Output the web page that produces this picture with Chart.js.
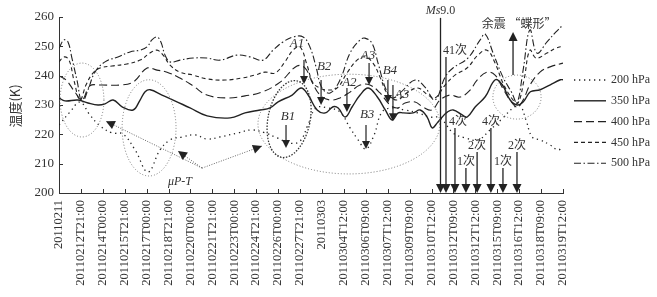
<!DOCTYPE html>
<html>
<head>
<meta charset="utf-8">
<script src="https://cdn.jsdelivr.net/npm/chart.js@4.4.1/dist/chart.umd.min.js"></script>
<style>
  html, body { margin: 0; padding: 0; background: #fff; }
</style>
</head>
<body>
<canvas id="tempChart" width="657" height="297"></canvas>
<script>
// Tick labels (category positions 0..23 on the x axis)
const labels = [
  "20110211", "20110212T21:00", "20110214T00:00", "20110215T21:00", "20110217T00:00",
  "20110218T21:00", "20110220T00:00", "20110221T21:00", "20110223T00:00", "20110224T21:00",
  "20110226T00:00", "20110227T21:00", "20110303", "20110304T12:00", "20110306T09:00",
  "20110307T12:00", "20110309T09:00", "20110310T12:00", "20110312T09:00", "20110312T12:00",
  "20110315T09:00", "20110316T12:00", "20110318T09:00", "20110319T12:00"
];

// 200 hPa
const x200 = [0, 0.50, 0.96, 1.41, 1.87, 2.42, 2.92, 3.47, 4.06, 4.61, 5.07, 5.61, 6.21, 6.75, 7.35, 8.17, 8.81, 9.40, 9.95, 10.54, 11.0, 11.36, 11.73, 12.27, 12.82, 13.28, 13.65, 14.01, 14.38, 14.74, 15.20, 15.79, 16.38, 16.93, 17.39, 17.98, 18.53, 19.12, 19.67, 20.26, 20.72, 21.04, 21.31, 21.59, 21.95, 22.41, 22.77, 23];
const t200 = [223.2, 227.6, 231.0, 226.6, 222.9, 220.5, 220.1, 214.7, 207.2, 214.7, 218.1, 219.1, 219.8, 218.4, 219.1, 220.5, 221.5, 220.5, 218.8, 217.0, 217.7, 223.2, 229.0, 229.0, 227.6, 222.2, 218.1, 215.0, 219.8, 227.6, 229.0, 228.3, 227.3, 225.9, 225.6, 220.5, 218.8, 218.1, 221.5, 225.6, 229.0, 229.7, 224.9, 219.1, 218.1, 216.4, 214.7, 215.7];

// 350 hPa
const x350 = [0, 0.27, 0.87, 1.32, 1.78, 2.10, 2.47, 2.88, 3.38, 3.70, 3.93, 4.16, 4.70, 5.21, 5.98, 6.76, 7.81, 8.49, 9.18, 9.63, 10.0, 10.64, 11.05, 11.37, 11.78, 12.15, 12.51, 12.74, 13.06, 13.38, 13.74, 14.11, 14.52, 14.89, 15.21, 15.48, 15.71, 16.16, 16.48, 16.80, 17.03, 17.26, 17.49, 17.72, 17.99, 18.40, 18.63, 19.0, 19.45, 19.91, 20.23, 20.59, 20.91, 21.19, 21.51, 21.96, 22.42, 22.88, 23];
const t350 = [232.4, 231.4, 231.7, 230.7, 230.0, 230.4, 231.7, 229.4, 228.3, 231.7, 234.5, 235.2, 233.4, 231.7, 229.0, 226.3, 225.6, 227.3, 228.3, 229.0, 231.1, 233.4, 235.8, 233.4, 228.3, 227.3, 229.4, 229.0, 225.9, 229.4, 233.4, 235.8, 232.8, 228.3, 224.9, 227.3, 227.3, 227.3, 228.3, 225.9, 222.2, 223.9, 225.9, 227.6, 228.3, 226.6, 225.9, 229.4, 232.8, 238.6, 236.9, 231.7, 230.0, 231.1, 234.5, 235.2, 236.9, 238.6, 238.6];

// 400 hPa
const x400 = [0, 0.32, 0.73, 1.05, 1.41, 1.87, 2.78, 3.38, 4.02, 4.47, 4.93, 5.52, 6.12, 6.75, 7.67, 8.49, 9.26, 10.09, 10.86, 11.23, 11.55, 11.91, 12.37, 12.82, 13.28, 13.74, 14.19, 14.65, 15.11, 15.47, 15.79, 16.25, 16.61, 17.02, 17.39, 17.84, 18.30, 18.76, 19.08, 19.53, 19.90, 20.22, 20.58, 20.90, 21.18, 21.49, 21.95, 22.41, 23];
const t400 = [239.9, 238.5, 234.4, 231.7, 236.5, 236.8, 236.8, 237.8, 242.6, 241.9, 241.2, 239.2, 236.5, 233.4, 232.4, 233.1, 234.4, 237.8, 243.3, 242.6, 237.8, 233.4, 231.7, 232.4, 234.4, 236.8, 236.8, 234.1, 230.0, 229.0, 230.7, 231.0, 229.3, 228.3, 231.7, 233.4, 232.7, 235.1, 238.5, 241.2, 240.2, 236.1, 231.7, 229.3, 231.7, 236.8, 241.2, 243.0, 244.3];

// 450 hPa
const x450 = [0, 0.23, 0.46, 0.68, 0.96, 1.23, 1.55, 1.87, 2.42, 3.10, 3.70, 4.15, 4.47, 4.75, 5.07, 5.52, 6.12, 6.75, 7.58, 8.35, 8.94, 9.40, 9.86, 10.31, 10.68, 11.0, 11.32, 11.59, 11.91, 12.23, 12.69, 13.14, 13.60, 13.96, 14.33, 14.65, 14.97, 15.42, 15.93, 16.38, 16.84, 17.16, 17.62, 18.07, 18.62, 19.12, 19.53, 19.90, 20.26, 20.72, 20.95, 21.22, 21.49, 21.77, 22.27, 22.68, 23];
const t450 = [244.7, 246.4, 245.3, 238.5, 231.7, 236.8, 240.9, 242.6, 243.3, 244.0, 245.3, 247.7, 248.7, 247.0, 243.6, 241.2, 240.2, 238.9, 238.5, 239.2, 240.2, 241.2, 240.9, 244.7, 248.7, 249.8, 243.6, 237.5, 235.8, 235.1, 235.8, 240.9, 245.3, 246.4, 244.3, 239.5, 234.1, 231.7, 234.4, 235.8, 233.4, 232.4, 236.8, 240.2, 242.6, 247.0, 248.7, 244.3, 237.5, 231.7, 230.7, 238.5, 248.7, 246.0, 247.7, 249.4, 250.1];

// 500 hPa
const x500 = [0, 0.23, 0.41, 0.59, 0.82, 1.05, 1.32, 1.64, 2.10, 2.69, 3.24, 3.70, 4.02, 4.24, 4.47, 4.65, 4.84, 5.07, 5.52, 6.12, 6.75, 7.35, 8.12, 8.72, 9.31, 9.77, 10.22, 10.68, 11.14, 11.45, 11.73, 12.00, 12.37, 12.82, 13.28, 13.74, 13.96, 14.28, 14.56, 14.88, 15.20, 15.56, 16.25, 16.70, 17.16, 17.62, 17.98, 18.66, 19.22, 19.45, 19.81, 20.26, 20.67, 20.90, 21.18, 21.49, 21.81, 22.27, 22.68, 23];
const t500 = [249.4, 252.2, 251.5, 246.0, 238.5, 231.0, 235.1, 241.2, 244.7, 246.4, 248.1, 248.7, 249.8, 252.2, 253.2, 251.5, 247.0, 244.7, 245.3, 246.0, 246.0, 245.3, 247.0, 246.4, 245.3, 248.7, 251.5, 253.2, 253.2, 249.8, 243.0, 235.8, 234.1, 238.5, 247.7, 252.2, 252.8, 251.1, 244.3, 236.1, 232.4, 234.1, 238.5, 236.1, 231.7, 239.5, 242.6, 246.0, 252.2, 254.2, 247.7, 239.5, 234.1, 230.7, 241.9, 255.6, 247.7, 251.5, 254.9, 257.3];

// Earthquake markers (x position, top of arrow in K, text)
const quakeX = [17.41, 17.66, 18.07, 18.57, 19.08, 19.71, 20.26, 20.90];
const quakeTop = [259.7, 246.4, 222.2, 208.5, 214.0, 222.2, 208.5, 214.0];
const quakeText = ["Ms9.0", "41次", "4次", "1次", "2次", "4次", "1次", "2次"];

const series = [
  { label: "200 hPa", x: x200, t: t200, dash: [1.3, 3.7], width: 1.3 },
  { label: "350 hPa", x: x350, t: t350, dash: [], width: 1.4 },
  { label: "400 hPa", x: x400, t: t400, dash: [8, 4], width: 1.1 },
  { label: "450 hPa", x: x450, t: t450, dash: [4, 3], width: 1.1 },
  { label: "500 hPa", x: x500, t: t500, dash: [7, 2.5, 1.5, 2.5], width: 1.1 }
];

const serif = "'Liberation Serif', 'Noto Sans CJK SC', serif";
const ink = "#222";

// Annotation shapes (in data units)
const ovals = [
  { x: 1.05, y: 231.7, rx: 1.0, ry: 12.6, rot: 0, dark: false },
  { x: 4.11, y: 222.2, rx: 1.23, ry: 16.4, rot: 0, dark: false },
  { x: 13.23, y: 223.5, rx: 4.15, ry: 17.0, rot: 0, dark: false },
  { x: 10.5, y: 225.2, rx: 0.96, ry: 13.3, rot: 0.2, dark: true },
  { x: 20.9, y: 232.7, rx: 1.1, ry: 7.5, rot: 0, dark: false }
];
const marks = [
  { t: "A1", lx: 10.86, ly: 251.1, x: 11.18, y1: 245.3, y2: 237.2 },
  { t: "B2", lx: 12.10, ly: 243.0, x: 11.96, y1: 238.5, y2: 230.0 },
  { t: "A2", lx: 13.25, ly: 237.8, x: 13.14, y1: 235.8, y2: 227.6 },
  { t: "A3", lx: 14.10, ly: 247.0, x: 14.15, y1: 244.3, y2: 236.8 },
  { t: "B4", lx: 15.10, ly: 241.9, x: 15.01, y1: 238.5, y2: 230.7 },
  { t: "A3", lx: 15.65, ly: 233.4, x: 15.24, y1: 236.8, y2: 224.5 },
  { t: "B1", lx: 10.45, ly: 225.9, x: 10.36, y1: 223.2, y2: 215.3 },
  { t: "B3", lx: 14.06, ly: 226.6, x: 14.01, y1: 223.2, y2: 215.0 }
];
const mptApex = { x: 6.53, y: 208.5 };
const mptTargets = [{ x: 2.14, y: 224.5 }, { x: 5.43, y: 214.3 }, { x: 9.26, y: 216.0 }];

function head(ctx, x, y, dx, dy, size) {
  // filled triangle with tip at (x,y) pointing along (dx,dy)
  const len = Math.hypot(dx, dy);
  const ux = dx / len, uy = dy / len;
  const bx = x - ux * size, by = y - uy * size;
  ctx.beginPath();
  ctx.moveTo(x, y);
  ctx.lineTo(bx - uy * size * 0.5, by + ux * size * 0.5);
  ctx.lineTo(bx + uy * size * 0.5, by - ux * size * 0.5);
  ctx.closePath();
  ctx.fill();
}

const overlay = {
  id: "overlay",
  afterDraw(chart) {
    const ctx = chart.ctx;
    const xs = chart.scales.x, ys = chart.scales.y;
    const X = v => xs.getPixelForValue(v);
    const Y = v => ys.getPixelForValue(v);
    const area = chart.chartArea;
    ctx.save();

    // inward tick marks
    ctx.strokeStyle = "#333";
    ctx.lineWidth = 1;
    ctx.beginPath();
    labels.forEach((l, i) => {
      const px = Math.round(X(i)) + 0.5;
      ctx.moveTo(px, area.bottom);
      ctx.lineTo(px, area.bottom - 4);
    });
    for (let v = 200; v <= 260; v += 10) {
      const py = Math.round(Y(v)) + 0.5;
      ctx.moveTo(area.left, py);
      ctx.lineTo(area.left + 4, py);
    }
    ctx.stroke();

    // y title
    ctx.save();
    ctx.translate(15, 106);
    ctx.rotate(-Math.PI / 2);
    ctx.fillStyle = "#333";
    ctx.font = "13px 'Noto Sans CJK SC', sans-serif";
    ctx.textAlign = "center";
    ctx.textBaseline = "middle";
    ctx.fillText("温度(K)", 0, 0);
    ctx.restore();

    // ellipses
    ovals.forEach(o => {
      ctx.beginPath();
      ctx.setLineDash(o.dark ? [1.5, 1.5] : [1, 2]);
      ctx.strokeStyle = o.dark ? "#333" : "#777";
      ctx.lineWidth = o.dark ? 1.3 : 1;
      ctx.ellipse(X(o.x), Y(o.y), Math.abs(X(o.x + o.rx) - X(o.x)), Math.abs(Y(o.y + o.ry) - Y(o.y)), o.rot, 0, Math.PI * 2);
      ctx.stroke();
    });

    // μP-T pointers
    ctx.setLineDash([1, 1.5]);
    ctx.strokeStyle = "#666";
    ctx.fillStyle = ink;
    ctx.lineWidth = 1;
    const ax = X(mptApex.x), ay = Y(mptApex.y);
    mptTargets.forEach(p => {
      const tx = X(p.x), ty = Y(p.y);
      ctx.beginPath();
      ctx.moveTo(ax, ay);
      ctx.lineTo(tx, ty);
      ctx.stroke();
      head(ctx, tx, ty, tx - ax, ty - ay, 9);
    });
    ctx.setLineDash([]);
    ctx.font = "italic 12px " + serif;
    ctx.fillStyle = "#333";
    ctx.textAlign = "center";
    ctx.textBaseline = "middle";
    ctx.fillText("μP-T", X(5.52), Y(203.8));

    // A/B markers
    ctx.strokeStyle = ink;
    ctx.fillStyle = ink;
    ctx.lineWidth = 1.2;
    marks.forEach(m => {
      const px = X(m.x);
      ctx.beginPath();
      ctx.moveTo(px, Y(m.y1));
      ctx.lineTo(px, Y(m.y2) - 6);
      ctx.stroke();
      head(ctx, px, Y(m.y2), 0, 1, 8);
      ctx.fillStyle = "#333";
      ctx.font = "italic 13px " + serif;
      ctx.fillText(m.t, X(m.lx), Y(m.ly));
      ctx.fillStyle = ink;
    });

    // earthquake arrows
    quakeX.forEach((qx, i) => {
      const px = X(qx);
      ctx.strokeStyle = ink;
      ctx.lineWidth = 1.3;
      ctx.beginPath();
      ctx.moveTo(px, Y(quakeTop[i]));
      ctx.lineTo(px, area.bottom - 6);
      ctx.stroke();
      head(ctx, px, area.bottom, 0, 1, 9);
      ctx.fillStyle = "#333";
      ctx.textBaseline = "alphabetic";
      if (i === 0) {
        ctx.font = "italic 12px " + serif;
        const w1 = ctx.measureText("Ms").width;
        ctx.font = "12px " + serif;
        const w2 = ctx.measureText("9.0").width;
        const sx = px - (w1 + w2) / 2;
        ctx.textAlign = "left";
        ctx.font = "italic 12px " + serif;
        ctx.fillText("Ms", sx, 14);
        ctx.font = "12px " + serif;
        ctx.fillText("9.0", sx + w1, 14);
        ctx.textAlign = "center";
      } else {
        ctx.font = "12px " + serif;
        const off = i === 1 ? 9 : (i === 2 ? 3 : 0);
        ctx.fillText(quakeText[i], px + off, Y(quakeTop[i]) - 3);
      }
      ctx.fillStyle = ink;
    });
    ctx.textBaseline = "middle";

    // aftershock up arrow
    const ux = X(20.72);
    ctx.lineWidth = 1.3;
    ctx.beginPath();
    ctx.moveTo(ux, Y(240.2));
    ctx.lineTo(ux, Y(254.9) + 6);
    ctx.stroke();
    head(ctx, ux, Y(254.9), 0, -1, 9);
    ctx.fillStyle = "#333";
    ctx.font = "12px 'Noto Sans CJK SC', sans-serif";
    ctx.fillText("余震 “蝶形”", X(21.0), 23);

    // legend
    series.forEach((s, i) => {
      const ly = 80 + i * 20.8;
      ctx.strokeStyle = ink;
      ctx.lineWidth = s.width;
      ctx.setLineDash(s.dash);
      ctx.beginPath();
      ctx.moveTo(574, ly);
      ctx.lineTo(606, ly);
      ctx.stroke();
      ctx.setLineDash([]);
      ctx.fillStyle = "#333";
      ctx.font = "12px " + serif;
      ctx.textAlign = "left";
      ctx.fillText(s.label, 611, ly);
    });
    ctx.restore();
  }
};

const tempChart = new Chart(document.getElementById("tempChart"), {
  type: "line",
  data: {
    datasets: series.map(s => ({
      label: s.label,
      data: s.x.map((x, i) => ({ x: x, y: s.t[i] })),
      borderColor: ink,
      borderWidth: s.width,
      borderDash: s.dash,
      pointRadius: 0,
      tension: 0.4,
      fill: false
    }))
  },
  options: {
    responsive: false,
    animation: false,
    devicePixelRatio: 1,
    layout: { padding: { top: 17, right: 94, left: 0, bottom: 0 } },
    plugins: { legend: { display: false }, tooltip: { enabled: false } },
    scales: {
      x: {
        type: "linear",
        min: 0,
        max: 23,
        grid: { display: false, drawTicks: false },
        border: { display: true, color: "#333", width: 1 },
        ticks: {
          stepSize: 1,
          autoSkip: false,
          minRotation: 90,
          maxRotation: 90,
          padding: 7,
          color: "#333",
          font: { family: serif, size: 12.5 },
          callback: v => labels[v]
        },
        afterFit: scale => { scale.height = 104; }
      },
      y: {
        min: 200,
        max: 260,
        grid: { display: false, drawTicks: false },
        border: { display: true, color: "#333", width: 1 },
        ticks: {
          stepSize: 10,
          padding: 5,
          color: "#333",
          font: { family: serif, size: 13 }
        },
        afterFit: scale => { scale.width = 59; }
      }
    }
  },
  plugins: [overlay]
});
</script>
</body>
</html>
